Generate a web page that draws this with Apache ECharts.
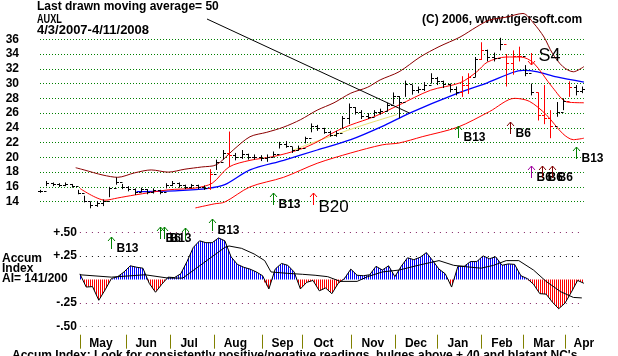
<!DOCTYPE html>
<html><head><meta charset="utf-8">
<script src="https://cdn.jsdelivr.net/npm/echarts@6/dist/echarts.min.js"></script>
<style>html,body{margin:0;padding:0;background:#fff}#c{width:618px;height:356px}</style>
</head><body><div id="c"></div>
<script>
// Trading-day index: 0 = 4/3/2007 ... 259 = 4/11/2008
const monthStartDays = [19,41,62,83,106,125,148,169,189,210,230,250];
const monthLabelDays = [29,50.5,71,93,115.5,135,158.5,179,199,220,240,259];
const monthNames = ['May','Jun','Jul','Aug','Sep','Oct','Nov','Dec','Jan','Feb','Mar','Apr'];

// Price bars, one every 3rd trading day (day = k*3)
const barStep = 3;
const barHigh  = [15.6,16.8,16.6,16.5,16.6,16.4,15.6,14.8,14.0,14.1,14.3,16.0,17.3,16.4,16.1,15.8,15.9,15.7,15.8,15.6,
                  16.5,16.8,16.6,16.3,16.4,16.3,16.2,18.4,19.7,21.0,23.5,20.6,21.0,20.5,20.4,20.3,20.4,20.8,22.1,22.2,
                  21.4,21.6,22.8,24.6,24.4,24.0,23.6,23.6,25.6,27.3,26.8,26.4,26.0,26.4,26.6,27.4,28.8,28.3,30.4,29.8,
                  29.6,30.2,31.4,30.9,30.4,30.0,29.6,31.0,31.4,33.6,35.6,34.6,34.2,36.2,34.0,34.5,35.0,32.5,30.0,28.8,
                  29.8,26.4,27.5,28.0,30.3,29.8,29.6];
const barLow   = [15.2,16.1,16.1,16.0,16.1,15.9,15.0,13.9,13.1,13.3,13.4,14.6,16.3,15.7,15.4,14.9,15.3,15.0,15.1,15.0,
                  15.8,16.1,15.9,15.7,15.8,15.7,15.6,15.6,18.3,19.7,18.7,19.6,19.8,19.7,19.7,19.5,19.4,20.1,21.2,21.3,
                  20.6,20.9,21.9,23.4,23.6,23.2,22.8,22.8,23.9,24.5,25.8,25.2,25.2,25.6,25.8,26.2,27.2,25.3,28.2,28.5,
                  28.7,29.0,30.0,29.8,29.4,28.8,28.4,28.2,28.6,30.9,33.2,33.0,33.0,34.5,29.6,31.2,33.0,31.0,28.4,25.0,
                  24.5,22.6,25.5,26.4,28.2,28.4,28.7];
const barClose = [15.5,16.5,16.4,16.3,16.4,16.1,15.2,14.1,13.5,13.8,14.1,15.8,16.6,16.0,15.7,15.3,15.7,15.3,15.6,15.3,
                  16.3,16.5,16.2,16.0,16.2,16.0,15.9,17.8,19.4,20.6,20.3,20.1,20.4,20.0,20.1,19.9,20.0,20.5,21.8,21.6,
                  21.0,21.3,22.6,24.2,24.0,23.5,23.1,23.3,25.4,26.8,26.2,25.6,25.5,26.1,26.3,27.1,28.3,27.5,30.0,29.1,
                  29.2,29.8,30.8,30.3,29.9,29.2,28.9,29.8,30.9,33.3,34.5,33.6,33.5,35.3,32.8,33.8,33.8,31.5,28.8,25.8,
                  25.3,24.2,26.2,27.6,29.6,29.0,29.2];
const redBars = [27,30,67,68,70,74,75,76,79,80,81,84];

// Moving averages and bands: [trading day, price]
const upperBand = [[17,18.6],[21,18.3],[30,17.6],[37,17.3],[45,17.9],[53,18.3],[61,18.0],[69,18.4],[77,18.7],[84,19.0],
  [92,21.0],[100,22.8],[108,23.4],[116,24.1],[124,25.1],[132,26.4],[140,27.4],[148,28.7],[156,29.5],[162,30.5],
  [171,31.6],[181,33.6],[190,35.0],[200,36.3],[208,37.7],[214,38.6],[222,39.0],[230,39.5],[235,38.2],[240,36.3],
  [244,34.1],[249,32.3],[254,31.6],[259,32.3]];
const redMa = [[19,15.8],[31,14.2],[37,14.5],[45,14.9],[61,15.6],[74,15.85],[82,16.5],[90,18.7],[100,19.6],[111,20.1],
  [124,21.1],[132,22.1],[140,23.4],[148,24.4],[159,25.5],[171,27.1],[186,29.1],[200,30.1],[208,31.6],[213,32.9],
  [222,33.6],[229,33.6],[235,32.8],[244,29.5],[251,27.5],[259,27.4]];
const blueMa = [[46,15.35],[66,15.5],[80,15.8],[88,16.3],[100,18.3],[116,19.6],[132,21.0],[148,22.4],[163,24.2],[176,26.0],
  [199,28.7],[213,30.1],[225,31.5],[230,31.8],[237,31.6],[246,30.9],[259,30.2]];
const yellowMa = [[120,20.9],[129,21.9],[152,24.2],[170,25.8]];
const lowerBand = [[74,13.15],[83,13.7],[88,13.95],[100,16.0],[116,17.3],[132,19.2],[148,20.6],[163,21.7],[171,21.95],
  [182,22.8],[199,24.1],[214,26.2],[226,28.0],[233,27.6],[241,25.8],[249,23.2],[254,22.4],[259,22.6]];

// Accumulation Index, every 3rd trading day from day 19
const aiStart = 19, aiStep = 3;
const aiValues = [0.06,-0.08,-0.075,-0.22,-0.11,0.01,0.03,0.08,0.145,0.13,
  0.12,-0.04,-0.135,-0.05,0.025,0.02,0.06,0.19,0.34,0.41,
  0.39,0.39,0.44,0.41,0.24,0.16,0.13,0.11,0.08,0.04,
  -0.1,0.11,0.17,0.15,0.08,-0.1,-0.03,-0.01,-0.12,-0.09,
  -0.15,-0.04,0.01,0.11,0.045,0.04,0.05,0.14,0.1,0.145,
  0.03,0.14,0.23,0.21,0.235,0.285,0.2,0.11,0.06,-0.08,
  0.14,0.14,0.19,0.19,0.25,0.22,0.24,0.15,0.165,0.16,
  0.04,0.01,-0.05,-0.15,-0.155,-0.24,-0.31,-0.25,-0.135,-0.01,
  -0.04];
const aiMa = [[19,0.05],[34,0.025],[50,0.05],[61,0.015],[68,0.015],[88,0.34],[90,0.355],[96,0.33],[102,0.27],[107,0.2],
  [110,0.08],[118,0.065],[125,0.055],[131,0.045],[137,0.03],[143,-0.02],[151,-0.02],[156,0.03],[163,0.08],[171,0.1],
  [180,0.15],[190,0.2],[197,0.15],[203,0.135],[210,0.12],[216,0.15],[222,0.2],[228,0.2],[235,0.1],[241,-0.02],
  [248,-0.13],[254,-0.19],[258,-0.195]];

// Signals: [day, value at arrow tip, label, kind]
const priceSignals = [[111,15.2,'B13','g'],[130,15.2,'B20','r'],[199,24.25,'B13','g'],[224,24.8,'B6','m'],
  [255,21.4,'B13','g'],[234,18.8,'B6','p'],[239,18.8,'B6','m'],[244,18.8,'B6','m'],[234,32.5,'S4','s']];
const aiSignals = [[34,0.45,'B13','g'],[57,0.56,'B6','g'],[59,0.56,'B13','g'],[69,0.55,'','g'],[82,0.64,'B13','g']];

const FONT = '"Liberation Sans", Arial, Helvetica, sans-serif';
const kindColor = {g:'#008000', r:'#ff0000', m:'#800000', p:'#a000a0', s:'#ff0000'};

function stripes(color){
  const c = document.createElement('canvas'); c.width = 2; c.height = 2;
  const g = c.getContext('2d'); g.fillStyle = color; g.fillRect(0,0,1,2);
  return {image:c, repeat:'repeat'};
}

const barData = barHigh.map((h,k)=>[k*barStep, h, barLow[k], barClose[k], k>0?barClose[k-1]:barClose[k], redBars.includes(k)?1:0]);

// AI points with zero crossings inserted for the two-colour fill
const aiPts = aiValues.map((v,j)=>[aiStart+j*aiStep, v]);
const aiSplit = [];
aiPts.forEach((p,j)=>{
  if (j>0){
    const q = aiPts[j-1];
    if ((q[1]>0 && p[1]<0) || (q[1]<0 && p[1]>0)){
      const t = q[1]/(q[1]-p[1]);
      aiSplit.push([q[0]+t*(p[0]-q[0]), 0]);
    }
  }
  aiSplit.push(p);
});
const aiPos = aiSplit.map(p=>[p[0], Math.max(p[1],0)]);
const aiNeg = aiSplit.map(p=>[p[0], Math.min(p[1],0)]);

function makeSignalRender(list){
  return function(params, api){
    const s = list[params.dataIndex];
    const pt = api.coord([s[0], s[1]]);
    const x = Math.round(pt[0]) + 0.5, y = Math.round(pt[1]);
    const col = kindColor[s[3]];
    const ch = [];
    if (s[3] === 's'){
      ch.push({type:'line', shape:{x1:x,y1:y-12,x2:x,y2:y}, style:{stroke:col,lineWidth:1}});
      ch.push({type:'polyline', shape:{points:[[x-3.5,y-4],[x,y],[x+3.5,y-4]]}, style:{stroke:col,lineWidth:1,fill:null}});
      ch.push({type:'text', x:x+7, y:y-9, style:{text:s[2], font:'18px '+FONT, fill:'#000', verticalAlign:'middle', textVerticalAlign:'middle'}});
    } else {
      ch.push({type:'line', shape:{x1:x,y1:y,x2:x,y2:y+12}, style:{stroke:col,lineWidth:1}});
      ch.push({type:'polyline', shape:{points:[[x-3.5,y+4],[x,y],[x+3.5,y+4]]}, style:{stroke:col,lineWidth:1,fill:null}});
      if (s[2]){
        const big = s[2] === 'B20';
        ch.push({type:'text', x:x+5, y:y+(big?14:12), style:{text:s[2], font:(big?'17px ':'bold 12px ')+FONT, fill:'#000', verticalAlign:'middle', textVerticalAlign:'middle'}});
      }
    }
    return {type:'group', children:ch};
  };
}

const chart = echarts.init(document.getElementById('c'), null, {renderer:'canvas', width:618, height:356});

const priceGridCol = [];
for (let t=12; t<=40; t+=2) priceGridCol.push(t>=14 && t<=36 ? '#008000' : 'rgba(0,0,0,0)');

const option = {
  animation:false,
  backgroundColor:'#ffffff',
  grid:[
    {left:40, width:543.9, top:9.78, height:206.64},
    {left:79.9, width:504, top:232.3, height:94.4}
  ],
  xAxis:[
    {type:'value', gridIndex:0, min:0, max:259, show:false},
    {type:'value', gridIndex:1, min:19, max:259, offset:8, position:'bottom',
     axisLine:{show:false, onZero:false}, splitLine:{show:false},
     axisTick:{show:true, customValues:monthStartDays, length:14, inside:false, lineStyle:{color:'#808000', width:1}},
     axisLabel:{show:true, customValues:monthLabelDays, margin:3,
       formatter:v=>{const i = monthLabelDays.findIndex(m=>Math.abs(m-v)<0.01); return i>=0?monthNames[i]:'';},
       fontFamily:FONT, fontWeight:'bold', fontSize:12, color:'#000'}}
  ],
  yAxis:[
    {type:'value', gridIndex:0, min:12, max:40, interval:2,
     axisLine:{show:false}, axisTick:{show:false},
     axisLabel:{margin:21, formatter:v=>(v>=14 && v<=36)?String(v):'', fontFamily:FONT, fontWeight:'bold', fontSize:12, color:'#000'},
     splitLine:{show:true, lineStyle:{color:priceGridCol, type:[1,2], width:1}}},
    {type:'value', gridIndex:1, min:-0.5, max:0.5, interval:0.25,
     axisLine:{show:false}, axisTick:{show:false},
     axisLabel:{margin:3, formatter:v=>{ if (Math.abs(v)<1e-9) return ''; return (v>0?'+':'-')+Math.abs(v).toFixed(2).slice(1); },
       fontFamily:FONT, fontWeight:'bold', fontSize:12, color:'#000'},
     splitLine:{show:true, lineStyle:{color:['#707070','#802060','rgba(0,0,0,0)','#000000','#802060'], type:[1,5], width:1}}}
  ],
  series:[
    {type:'line', xAxisIndex:0, yAxisIndex:0, data:upperBand, showSymbol:false, smooth:0.3, silent:true, z:2, lineStyle:{color:'#8b0000', width:1}},
    {type:'line', xAxisIndex:0, yAxisIndex:0, data:lowerBand, showSymbol:false, smooth:0.3, silent:true, z:2, lineStyle:{color:'#ff0000', width:1}},
    {type:'line', xAxisIndex:0, yAxisIndex:0, data:yellowMa, showSymbol:false, smooth:0.3, silent:true, z:2, lineStyle:{color:'#e8e070', width:1}},
    {type:'line', xAxisIndex:0, yAxisIndex:0, data:blueMa, showSymbol:false, smooth:0.3, silent:true, z:2, lineStyle:{color:'#0000ff', width:1.3}},
    {type:'line', xAxisIndex:0, yAxisIndex:0, data:redMa, showSymbol:false, smooth:0.3, silent:true, z:2, lineStyle:{color:'#ff0000', width:1}},
    {type:'custom', xAxisIndex:0, yAxisIndex:0, data:barData, z:5, silent:true, encode:{x:0, y:[1,2]},
     renderItem:(params, api)=>{
       const d = api.value(0);
       const x = Math.round(api.coord([d, 20])[0]) + 0.5;
       const yh = api.coord([d, api.value(1)])[1], yl = api.coord([d, api.value(2)])[1];
       const yc = Math.round(api.coord([d, api.value(3)])[1]) + 0.5;
       const yo = Math.round(api.coord([d, api.value(4)])[1]) + 0.5;
       const col = api.value(5) ? '#ff0000' : '#000000';
       return {type:'group', children:[
         {type:'line', shape:{x1:x,y1:yh,x2:x,y2:yl}, style:{stroke:col, lineWidth:1}},
         {type:'line', shape:{x1:x,y1:yc,x2:x+2.5,y2:yc}, style:{stroke:col, lineWidth:1}},
         {type:'line', shape:{x1:x-2.5,y1:yo,x2:x,y2:yo}, style:{stroke:col, lineWidth:1}}
       ]};
     }},
    {type:'custom', xAxisIndex:0, yAxisIndex:0, data:priceSignals.map(s=>[s[0], s[1]]), z:6, silent:true, clip:false,
     renderItem:makeSignalRender(priceSignals)},
    {type:'line', xAxisIndex:1, yAxisIndex:1, data:aiPos, showSymbol:false, silent:true, z:2,
     lineStyle:{width:0, opacity:0}, areaStyle:{color:stripes('#0000ff'), origin:0, opacity:1}},
    {type:'line', xAxisIndex:1, yAxisIndex:1, data:aiNeg, showSymbol:false, silent:true, z:2,
     lineStyle:{width:0, opacity:0}, areaStyle:{color:stripes('#ff0000'), origin:0, opacity:1}},
    {type:'line', xAxisIndex:1, yAxisIndex:1, data:aiPts, showSymbol:false, silent:true, z:3, lineStyle:{color:'#000', width:1}},
    {type:'line', xAxisIndex:1, yAxisIndex:1, data:aiMa, showSymbol:false, silent:true, z:3, lineStyle:{color:'#000', width:1}},
    {type:'custom', xAxisIndex:1, yAxisIndex:1, data:aiSignals.map(s=>[s[0], s[1]]), z:6, silent:true, clip:false,
     renderItem:makeSignalRender(aiSignals)}
  ],
  graphic:{elements:[
    {id:'t1', type:'text', x:37, y:1, style:{text:'Last drawn moving average= 50', font:'bold 12px '+FONT, fill:'#000', verticalAlign:'top', textVerticalAlign:'top'}},
    {id:'t2', type:'text', x:37, y:14, scaleX:0.76, style:{text:'AUXL', font:'bold 12px '+FONT, fill:'#000', verticalAlign:'top', textVerticalAlign:'top'}},
    {id:'t3', type:'text', x:37, y:24, style:{text:'4/3/2007-4/11/2008', font:'bold 13px '+FONT, fill:'#000', verticalAlign:'top', textVerticalAlign:'top'}},
    {id:'t4', type:'text', x:422, y:14, style:{text:'(C) 2006, www.tigersoft.com', font:'bold 12px '+FONT, fill:'#000', verticalAlign:'top', textVerticalAlign:'top'}},
    {id:'t5', type:'text', x:2, y:253, style:{text:'Accum', font:'bold 12px '+FONT, fill:'#000', verticalAlign:'top', textVerticalAlign:'top'}},
    {id:'t6', type:'text', x:2, y:263, style:{text:'Index', font:'bold 12px '+FONT, fill:'#000', verticalAlign:'top', textVerticalAlign:'top'}},
    {id:'t7', type:'text', x:2, y:273, style:{text:'AI= 141/200', font:'bold 12px '+FONT, fill:'#000', verticalAlign:'top', textVerticalAlign:'top'}},
    {id:'t8', type:'text', x:12, y:350, style:{text:"Accum Index: Look for consistently positive/negative readings, bulges above +.40 and blatant NC's", font:'bold 12px '+FONT, fill:'#000', verticalAlign:'top', textVerticalAlign:'top'}}
  ]}
};
chart.setOption(option);

// pointer from the title to the last drawn (blue 50-day) moving average
const target = chart.convertToPixel({xAxisIndex:0, yAxisIndex:0}, blueMa[9]);
chart.setOption({graphic:{elements:[
  {id:'ptr', type:'line', z:10, shape:{x1:207, y1:19, x2:target[0], y2:target[1]}, style:{stroke:'#000', lineWidth:1}}
]}});
</script>
</body></html>
